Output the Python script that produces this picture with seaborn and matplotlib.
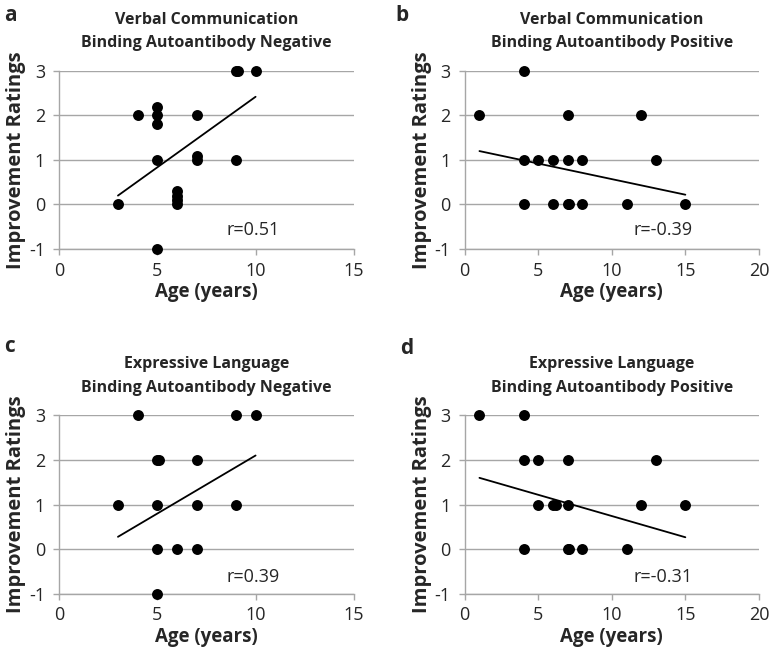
import numpy as np
import pandas as pd
import matplotlib
matplotlib.use("Agg")
import matplotlib.pyplot as plt
import seaborn as sns

# ---------------- data ----------------
# panel a : verbal communication, autoantibody negative
age_a = [3, 4, 5, 5, 5, 5, 5, 6, 6, 6, 6, 7, 7, 7, 9, 9, 9.1, 10]
imp_a = [0, 2, 2.2, 2, 1.8, 1, -1, 0.3, 0.2, 0.1, 0, 2, 1.1, 1, 3, 1, 3, 3]
fit_a_x = [3, 10]
fit_a_y = [0.2, 2.42]

# panel b : verbal communication, autoantibody positive
age_b = [1, 4, 4, 4, 5, 6, 6, 7, 7, 7, 7.1, 8, 8, 11, 12, 13, 15]
imp_b = [2, 3, 1, 0, 1, 1, 0, 2, 1, 0, 0, 1, 0, 0, 2, 1, 0]
fit_b_x = [1, 15]
fit_b_y = [1.2, 0.22]

# panel c : expressive language, autoantibody negative
age_c = [3, 4, 5, 5.1, 5, 5, 5, 6, 7, 7, 7, 9, 9, 10]
imp_c = [1, 3, 2, 2, 1, 0, -1, 0, 2, 1, 0, 3, 1, 3]
fit_c_x = [3, 10]
fit_c_y = [0.28, 2.1]

# panel d : expressive language, autoantibody positive
age_d = [1, 4, 4, 4, 5, 5, 6, 6.2, 7, 7, 7, 7.1, 8, 11, 12, 13, 15]
imp_d = [3, 3, 2, 0, 2, 1, 1, 1, 2, 1, 0, 0, 0, 0, 1, 2, 1]
fit_d_x = [1, 15]
fit_d_y = [1.6, 0.27]

letters = ["a", "b", "c", "d"]
titles = [
    "Verbal Communication\nBinding Autoantibody Negative",
    "Verbal Communication\nBinding Autoantibody Positive",
    "Expressive Language\nBinding Autoantibody Negative",
    "Expressive Language\nBinding Autoantibody Positive",
]
r_labels = ["r=0.51", "r=-0.39", "r=0.39", "r=-0.31"]
x_max = [15, 20, 15, 20]
x_ticks = [[0, 5, 10, 15], [0, 5, 10, 15, 20], [0, 5, 10, 15], [0, 5, 10, 15, 20]]
y_ticks = [-1, 0, 1, 2, 3]

# ---------------- style ----------------
sns.set_style("white")
plt.rcParams['font.family'] = ['Open Sans', 'DejaVu Sans']
plt.rcParams['axes.unicode_minus'] = False

fig = plt.figure(figsize=(7.72, 6.57), dpi=100)

# axes boxes in figure fraction (left, bottom, width, height)
boxes = [
    (0.0764, 0.621, 0.382, 0.271),
    (0.602, 0.621, 0.381, 0.271),
    (0.0764, 0.0959, 0.382, 0.272),
    (0.602, 0.0959, 0.381, 0.272),
]
r_pos = [(9.86, -0.57), (13.5, -0.57), (9.86, -0.62), (13.5, -0.62)]

panels = [
    (age_a, imp_a, fit_a_x, fit_a_y),
    (age_b, imp_b, fit_b_x, fit_b_y),
    (age_c, imp_c, fit_c_x, fit_c_y),
    (age_d, imp_d, fit_d_x, fit_d_y),
]

grid_col = "#a6a6a6"

for i, (ages, imps, fx, fy) in enumerate(panels):
    ax = fig.add_axes(boxes[i])
    df = pd.DataFrame({"Age": ages, "Improvement": imps})
    fit = pd.DataFrame({"Age": fx, "Improvement": fy})

    for yv in y_ticks:
        ax.axhline(yv, color=grid_col, lw=1.0, zorder=0)

    sns.lineplot(data=fit, x="Age", y="Improvement", ax=ax,
                 color="black", lw=1.3, zorder=2)
    sns.scatterplot(data=df, x="Age", y="Improvement", ax=ax,
                    color="black", s=62, edgecolor="black", linewidth=0,
                    zorder=3, clip_on=False)

    ax.set_xlim(0, x_max[i])
    ax.set_ylim(-1, 3)
    ax.set_xticks(x_ticks[i])
    ax.set_yticks(y_ticks)
    ax.tick_params(axis="both", labelsize=13, length=4, width=1,
                   color=grid_col, direction="out")
    ax.tick_params(axis="x", bottom=True, pad=5)
    ax.tick_params(axis="y", left=True, pad=6)
    for side in ["top", "right"]:
        ax.spines[side].set_visible(False)
    for side in ["left", "bottom"]:
        ax.spines[side].set_color(grid_col)
        ax.spines[side].set_linewidth(1.0)

    ax.set_xlabel("Age (years)", fontsize=13.5, fontweight="bold", labelpad=2)
    ax.set_ylabel("Improvement Ratings", fontsize=14.5, fontweight="bold", labelpad=2)
    ax.set_title(titles[i], fontsize=11.5, fontweight="bold", pad=17, linespacing=1.6)

    ax.text(r_pos[i][0], r_pos[i][1], r_labels[i], fontsize=13,
            ha="center", va="center")

# panel letters
fig.text(0.005, 0.977, "a", fontsize=15, fontweight="bold", va="center")
fig.text(0.512, 0.977, "b", fontsize=15, fontweight="bold", va="center")
fig.text(0.005, 0.472, "c", fontsize=15, fontweight="bold", va="center")
fig.text(0.518, 0.470, "d", fontsize=15, fontweight="bold", va="center")

fig.savefig("out.png", dpi=100)
